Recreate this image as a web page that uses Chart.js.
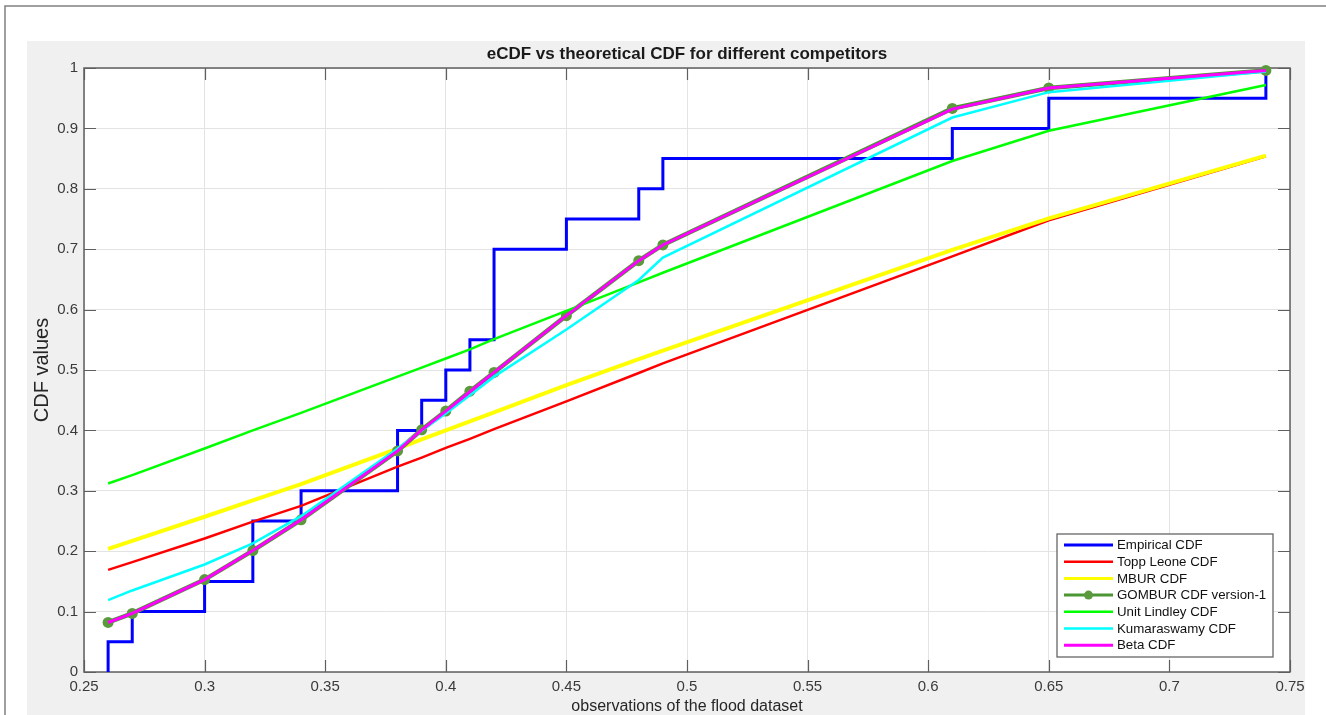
<!DOCTYPE html>
<html>
<head>
<meta charset="utf-8">
<script src="https://cdn.jsdelivr.net/npm/chart.js@4.4.1/dist/chart.umd.min.js"></script>
<style>
  html, body { margin: 0; padding: 0; background: #ffffff; }
  canvas { display: block; }
</style>
</head>
<body>
<canvas id="cdfChart" width="1326" height="715"></canvas>
<script>
// Sorted unique observations of the flood dataset
const obsX = [0.26, 0.27, 0.30, 0.32, 0.34, 0.38, 0.39, 0.40, 0.41, 0.42, 0.45, 0.48, 0.49, 0.61, 0.65, 0.74];

// Empirical CDF value reached at each observation
const empiricalCdf = [0.05, 0.10, 0.15, 0.25, 0.30, 0.40, 0.45, 0.50, 0.55, 0.70, 0.75, 0.80, 0.85, 0.90, 0.95, 1.00];

// Fitted CDFs evaluated at the observations
const toppLeoneCdf   = [0.169, 0.182, 0.221, 0.249, 0.275, 0.340, 0.355, 0.371, 0.386, 0.402, 0.448, 0.495, 0.511, 0.688, 0.748, 0.854];
const mburCdf        = [0.204, 0.217, 0.257, 0.284, 0.311, 0.370, 0.385, 0.400, 0.415, 0.430, 0.475, 0.518, 0.532, 0.699, 0.751, 0.855];
const gomburCdf      = [0.082, 0.097, 0.153, 0.201, 0.252, 0.366, 0.401, 0.432, 0.465, 0.496, 0.590, 0.681, 0.707, 0.933, 0.967, 0.996];
const unitLindleyCdf = [0.312, 0.326, 0.370, 0.400, 0.429, 0.489, 0.504, 0.519, 0.534, 0.551, 0.598, 0.645, 0.661, 0.846, 0.896, 0.972];
const kumaraswamyCdf = [0.119, 0.135, 0.178, 0.213, 0.258, 0.370, 0.400, 0.428, 0.458, 0.489, 0.567, 0.649, 0.686, 0.918, 0.960, 0.994];
const betaCdf        = [0.082, 0.097, 0.153, 0.201, 0.252, 0.366, 0.401, 0.432, 0.464, 0.496, 0.590, 0.681, 0.707, 0.932, 0.967, 0.996];

// Axis ticks
const xTicks = [0.25, 0.30, 0.35, 0.40, 0.45, 0.50, 0.55, 0.60, 0.65, 0.70, 0.75];
const xTickLabels = ['0.25', '0.3', '0.35', '0.4', '0.45', '0.5', '0.55', '0.6', '0.65', '0.7', '0.75'];
const yTicks = [0, 0.1, 0.2, 0.3, 0.4, 0.5, 0.6, 0.7, 0.8, 0.9, 1];
const yTickLabels = ['0', '0.1', '0.2', '0.3', '0.4', '0.5', '0.6', '0.7', '0.8', '0.9', '1'];

const chartTitle = 'eCDF vs theoretical CDF for different competitors';

const FONT = "'Liberation Sans', Arial, Helvetica, sans-serif";

const toPoints = (ys) => obsX.map((x, i) => ({ x: x, y: ys[i] }));
// The staircase starts from zero at the first observation
const empiricalPoints = [{ x: obsX[0], y: 0 }].concat(toPoints(empiricalCdf));

const seriesDefs = [
  { label: 'Empirical CDF',        data: empiricalPoints,          color: '#0000ff', width: 3,   stepped: 'before' },
  { label: 'Topp Leone CDF',       data: toPoints(toppLeoneCdf),   color: '#ff0000', width: 2.5 },
  { label: 'MBUR CDF',             data: toPoints(mburCdf),        color: '#ffff00', width: 4 },
  { label: 'GOMBUR CDF version-1', data: toPoints(gomburCdf),      color: '#4b9633', width: 4.5, marker: true },
  { label: 'Unit Lindley CDF',     data: toPoints(unitLindleyCdf), color: '#00ff00', width: 2.5 },
  { label: 'Kumaraswamy CDF',      data: toPoints(kumaraswamyCdf), color: '#00ffff', width: 2.5 },
  { label: 'Beta CDF',             data: toPoints(betaCdf),        color: '#ff00ff', width: 3 }
];

const datasets = seriesDefs.map((s, i) => ({
  label: s.label,
  data: s.data,
  borderColor: s.color,
  backgroundColor: s.color,
  borderWidth: s.width,
  stepped: s.stepped || false,
  tension: 0,
  fill: false,
  pointRadius: s.marker ? 5.5 : 0,
  pointHoverRadius: s.marker ? 5.5 : 0,
  pointBorderWidth: 0,
  pointBackgroundColor: s.marker ? '#5a9a3c' : s.color,
  clip: s.marker ? false : 2,
  // later series are painted over earlier ones
  order: seriesDefs.length - i
}));

// Figure background, axes box with inward ticks, title and the legend box
const figurePlugin = {
  id: 'figurePlugin',
  beforeDraw(chart) {
    const { ctx, chartArea: a, width, height } = chart;
    ctx.save();
    ctx.fillStyle = '#ffffff';
    ctx.fillRect(0, 0, width, height);
    ctx.fillStyle = '#f0f0f0';
    ctx.fillRect(27, 41, 1278, height - 41);
    ctx.strokeStyle = '#808080';
    ctx.lineWidth = 1.5;
    ctx.beginPath();
    ctx.moveTo(5, height);
    ctx.lineTo(5, 6);
    ctx.lineTo(width, 6);
    ctx.stroke();
    ctx.fillStyle = '#ffffff';
    ctx.fillRect(a.left, a.top, a.right - a.left, a.bottom - a.top);
    ctx.restore();
  },
  beforeDatasetsDraw(chart) {
    const { ctx, chartArea: a, scales } = chart;
    const tickLen = 12;
    ctx.save();
    ctx.strokeStyle = '#5f5f5f';
    ctx.lineWidth = 1.2;
    ctx.beginPath();
    scales.x.ticks.forEach(t => {
      const px = Math.round(scales.x.getPixelForValue(t.value)) + 0.5;
      ctx.moveTo(px, a.bottom); ctx.lineTo(px, a.bottom - tickLen);
      ctx.moveTo(px, a.top); ctx.lineTo(px, a.top + tickLen);
    });
    scales.y.ticks.forEach(t => {
      const py = Math.round(scales.y.getPixelForValue(t.value)) + 0.5;
      ctx.moveTo(a.left, py); ctx.lineTo(a.left + tickLen, py);
      ctx.moveTo(a.right, py); ctx.lineTo(a.right - tickLen, py);
    });
    ctx.stroke();
    ctx.lineWidth = 1.5;
    ctx.strokeRect(a.left, a.top, a.right - a.left, a.bottom - a.top);

    // title centred over the axes
    ctx.fillStyle = '#1a1a1a';
    ctx.font = 'bold 17px ' + FONT;
    ctx.textAlign = 'center';
    ctx.textBaseline = 'middle';
    ctx.fillText(chartTitle, (a.left + a.right) / 2, a.top - 14);
    ctx.restore();
  },
  afterDraw(chart) {
    const { ctx, chartArea: a } = chart;
    const boxW = 216, boxH = 123;
    const bx = a.right - 17 - boxW;
    const by = a.bottom - 15 - boxH;
    const rowH = 16.7;
    ctx.save();
    ctx.fillStyle = '#ffffff';
    ctx.fillRect(bx, by, boxW, boxH);
    ctx.strokeStyle = '#666666';
    ctx.lineWidth = 1.3;
    ctx.strokeRect(bx, by, boxW, boxH);
    ctx.font = '13.3px ' + FONT;
    ctx.textBaseline = 'middle';
    ctx.textAlign = 'left';
    chart.data.datasets.forEach((ds, i) => {
      const y = by + 11 + i * rowH;
      const x0 = bx + 7, x1 = bx + 56;
      ctx.strokeStyle = ds.borderColor;
      ctx.lineWidth = Math.min(ds.borderWidth, 3);
      ctx.beginPath();
      ctx.moveTo(x0, y); ctx.lineTo(x1, y);
      ctx.stroke();
      if (ds.pointRadius > 0) {
        ctx.fillStyle = ds.pointBackgroundColor;
        ctx.beginPath();
        ctx.arc((x0 + x1) / 2, y, 4.5, 0, Math.PI * 2);
        ctx.fill();
      }
      ctx.fillStyle = '#111111';
      ctx.fillText(ds.label, x1 + 4, y + 0.5);
    });
    ctx.restore();
  }
};

new Chart(document.getElementById('cdfChart'), {
  type: 'line',
  data: { datasets: datasets },
  options: {
    responsive: false,
    animation: false,
    devicePixelRatio: 1,
    layout: { padding: { left: 27, right: 36, top: 68, bottom: 0 } },
    plugins: {
      legend: { display: false },
      tooltip: { enabled: false },
      title: { display: false }
    },
    scales: {
      x: {
        type: 'linear',
        min: 0.25,
        max: 0.75,
        afterBuildTicks(scale) { scale.ticks = xTicks.map(v => ({ value: v })); },
        afterFit(scale) { scale.height = 43; },
        ticks: {
          callback: (v, i) => xTickLabels[i],
          color: '#3a3a3a',
          padding: 6,
          maxRotation: 0,
          autoSkip: false,
          font: { family: FONT, size: 15 }
        },
        grid: { color: '#e3e3e3', lineWidth: 1, drawTicks: false },
        border: { display: false },
        title: {
          display: true,
          text: 'observations of the flood dataset',
          color: '#262626',
          padding: { top: 0, bottom: -1 },
          font: { family: FONT, size: 16 }
        }
      },
      y: {
        type: 'linear',
        min: 0,
        max: 1,
        afterBuildTicks(scale) { scale.ticks = yTicks.map(v => ({ value: v })); },
        afterFit(scale) { scale.width = 57; },
        ticks: {
          callback: (v, i) => yTickLabels[i],
          color: '#3a3a3a',
          padding: 6,
          autoSkip: false,
          font: { family: FONT, size: 15 }
        },
        grid: { color: '#e3e3e3', lineWidth: 1, drawTicks: false },
        border: { display: false },
        title: {
          display: true,
          text: 'CDF values',
          color: '#262626',
          padding: { top: 3, bottom: 0 },
          font: { family: FONT, size: 20 }
        }
      }
    }
  },
  plugins: [figurePlugin]
});
</script>
</body>
</html>
